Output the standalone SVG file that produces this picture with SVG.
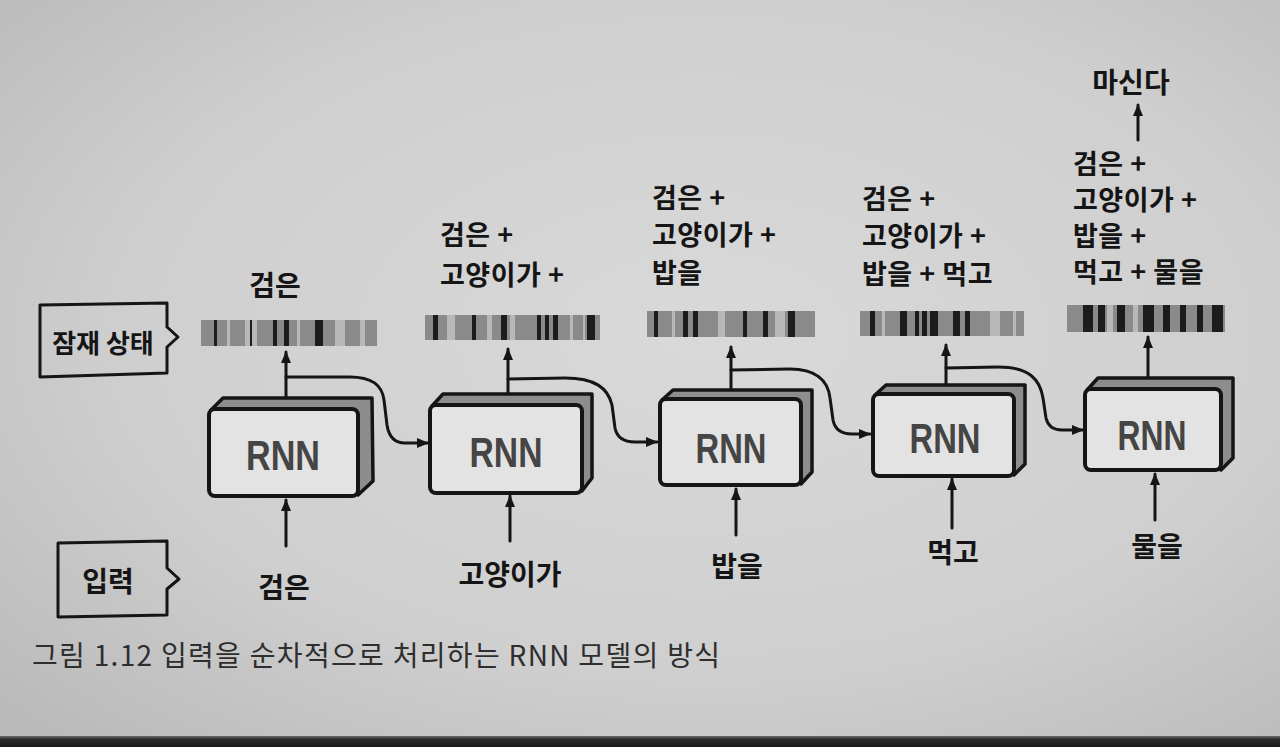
<svg xmlns="http://www.w3.org/2000/svg" width="1280" height="747" viewBox="0 0 1280 747">
<defs>
<radialGradient id="paper" cx="0.55" cy="0.45" r="0.75">
<stop offset="0" stop-color="#d9d9d9"/>
<stop offset="0.6" stop-color="#cfcfcf"/>
<stop offset="1" stop-color="#b9b9b9"/>
</radialGradient>
<linearGradient id="edge" x1="0" y1="0" x2="0" y2="1">
<stop offset="0" stop-color="#6a6a6a"/>
<stop offset="0.3" stop-color="#2a2a2a"/>
<stop offset="1" stop-color="#1a1a1a"/>
</linearGradient>
<marker id="ah" viewBox="0 0 12 12" refX="11" refY="6" markerWidth="12" markerHeight="12" markerUnits="userSpaceOnUse" orient="auto">
<path d="M0,1 L12,6 L0,11 Z" fill="#151515"/>
</marker>
</defs>
<style>
.ln{fill:none;stroke:#151515;stroke-width:3;stroke-linecap:round;stroke-linejoin:round}
.arr{marker-end:url(#ah)}
.lbl{fill:none;stroke:#151515;stroke-width:3;stroke-linejoin:round}
.kr{font-family:"Noto Sans CJK KR","Noto Sans",sans-serif;font-weight:700;fill:#151515;font-size:28px}
.st{font-family:"Noto Sans CJK KR","Noto Sans",sans-serif;font-weight:700;fill:#151515;font-size:27px;letter-spacing:0.5px}
.tag{font-family:"Noto Sans CJK KR","Noto Sans",sans-serif;font-weight:700;fill:#151515;font-size:26px}
.rnn{font-family:"Liberation Sans",Arial,sans-serif;font-weight:700;fill:#454545;font-size:42px}
.back{fill:#8d8d8d;stroke:#151515;stroke-width:3.5;stroke-linejoin:round}
.front{fill:#e3e3e3;stroke:#151515;stroke-width:4}
.bl{fill:#b8b8b8}
.bm{fill:#8a8a8a}
.bd{fill:#1c1c1c}
.cap{font-family:"Noto Sans CJK KR","Noto Sans",sans-serif;font-weight:400;fill:#2e2e2e;font-size:28px}
</style>
<rect x="0" y="0" width="1280" height="747" fill="url(#paper)"/>
<rect x="0" y="736" width="1280" height="11" fill="url(#edge)"/>

<g id="label-latent">
<path class="lbl" d="M40,305 L167,303 L167,327 L178,337 L167,347 L167,373 L40,377 Z"/>
<text class="tag" x="103" y="353" text-anchor="middle">잠재 상태</text>
</g>
<g id="label-input">
<path class="lbl" d="M58,543 L167,541 L167,568 L179,579 L167,589 L167,615 L58,617 Z"/>
<text class="kr" x="108" y="592" text-anchor="middle" font-size="30">입력</text>
</g>

<g id="bar1">
<rect class="bl" x="201" y="320" width="176" height="26"/>
<rect class="bm" x="201" y="320" width="26" height="26"/>
<rect class="bm" x="230" y="320" width="15" height="26"/>
<rect class="bd" x="250" y="320" width="2" height="26"/>
<rect class="bm" x="257" y="320" width="40" height="26"/>
<rect class="bm" x="300" y="320" width="35" height="26"/>
<rect class="bm" x="345" y="320" width="15" height="26"/>
<rect class="bm" x="365" y="320" width="12" height="26"/>
<rect class="bd" x="214" y="320" width="3" height="26"/>
<rect class="bd" x="273" y="320" width="4" height="26"/>
<rect class="bd" x="284" y="320" width="5" height="26"/>
<rect class="bd" x="315" y="320" width="8" height="26"/>
</g>
<g id="bar2">
<rect class="bl" x="425" y="315" width="175" height="25"/>
<rect class="bm" x="425" y="315" width="22" height="25"/>
<rect class="bm" x="455" y="315" width="32" height="25"/>
<rect class="bm" x="492" y="315" width="18" height="25"/>
<rect class="bm" x="515" y="315" width="55" height="25"/>
<rect class="bm" x="573" y="315" width="10" height="25"/>
<rect class="bm" x="585" y="315" width="15" height="25"/>
<rect class="bd" x="433" y="315" width="5" height="25"/>
<rect class="bd" x="472" y="315" width="4" height="25"/>
<rect class="bd" x="501" y="315" width="6" height="25"/>
<rect class="bd" x="537" y="315" width="4" height="25"/>
<rect class="bd" x="545" y="315" width="4" height="25"/>
<rect class="bd" x="553" y="315" width="5" height="25"/>
<rect class="bd" x="587" y="315" width="8" height="25"/>
</g>
<g id="bar3">
<rect class="bl" x="647" y="311" width="168" height="26"/>
<rect class="bm" x="647" y="311" width="25" height="26"/>
<rect class="bm" x="675" y="311" width="43" height="26"/>
<rect class="bm" x="725" y="311" width="50" height="26"/>
<rect class="bm" x="785" y="311" width="30" height="26"/>
<rect class="bd" x="654" y="311" width="4" height="26"/>
<rect class="bd" x="683" y="311" width="5" height="26"/>
<rect class="bd" x="693" y="311" width="5" height="26"/>
<rect class="bd" x="743" y="311" width="4" height="26"/>
<rect class="bd" x="763" y="311" width="5" height="26"/>
<rect class="bd" x="788" y="311" width="7" height="26"/>
</g>
<g id="bar4">
<rect class="bl" x="860" y="311" width="164" height="25"/>
<rect class="bm" x="860" y="311" width="22" height="25"/>
<rect class="bm" x="885" y="311" width="105" height="25"/>
<rect class="bm" x="1000" y="311" width="13" height="25"/>
<rect class="bm" x="1016" y="311" width="8" height="25"/>
<rect class="bd" x="870" y="311" width="5" height="25"/>
<rect class="bd" x="900" y="311" width="7" height="25"/>
<rect class="bd" x="915" y="311" width="4" height="25"/>
<rect class="bd" x="922" y="311" width="5" height="25"/>
<rect class="bd" x="930" y="311" width="8" height="25"/>
<rect class="bd" x="953" y="311" width="7" height="25"/>
<rect class="bd" x="965" y="311" width="5" height="25"/>
</g>
<g id="bar5">
<rect class="bm" x="1067" y="305" width="158" height="27"/>
<rect class="bl" x="1107" y="305" width="6" height="27"/>
<rect class="bl" x="1133" y="305" width="5" height="27"/>
<rect class="bd" x="1083" y="305" width="10" height="27"/>
<rect class="bd" x="1098" y="305" width="7" height="27"/>
<rect class="bd" x="1117" y="305" width="8" height="27"/>
<rect class="bd" x="1143" y="305" width="11" height="27"/>
<rect class="bd" x="1163" y="305" width="7" height="27"/>
<rect class="bd" x="1180" y="305" width="6" height="27"/>
<rect class="bd" x="1197" y="305" width="6" height="27"/>
<rect class="bd" x="1212" y="305" width="11" height="27"/>
</g>

<g id="rnn1">
<path class="back" d="M211,410 L223,398 L372,398 L373,481 L358,495 Z"/>
<rect class="front" x="209" y="409" width="149" height="87" rx="6"/>
<text class="rnn" x="283" y="470" text-anchor="middle" textLength="74" lengthAdjust="spacingAndGlyphs">RNN</text>
</g>
<g id="rnn2">
<path class="back" d="M432,406 L443,394 L592,394 L592,478 L582,491 Z"/>
<rect class="front" x="430" y="405" width="152" height="88" rx="6"/>
<text class="rnn" x="506" y="467" text-anchor="middle" textLength="73" lengthAdjust="spacingAndGlyphs">RNN</text>
</g>
<g id="rnn3">
<path class="back" d="M662,400 L673,390 L812,390 L812,472 L801,484 Z"/>
<rect class="front" x="660" y="399" width="141" height="86" rx="6"/>
<text class="rnn" x="731" y="463" text-anchor="middle" textLength="71" lengthAdjust="spacingAndGlyphs">RNN</text>
</g>
<g id="rnn4">
<path class="back" d="M875,395 L886,385 L1025,385 L1025,464 L1014,475 Z"/>
<rect class="front" x="873" y="394" width="141" height="82" rx="6"/>
<text class="rnn" x="945" y="453" text-anchor="middle" textLength="71" lengthAdjust="spacingAndGlyphs">RNN</text>
</g>
<g id="rnn5">
<path class="back" d="M1087,390 L1098,378 L1233,378 L1233,458 L1221,470 Z"/>
<rect class="front" x="1085" y="389" width="136" height="81" rx="6"/>
<text class="rnn" x="1152" y="450" text-anchor="middle" textLength="69" lengthAdjust="spacingAndGlyphs">RNN</text>
</g>

<g id="connectors">
<path class="ln arr" d="M286,397 L286,352"/>
<path class="ln arr" d="M508,393 L508,349"/>
<path class="ln arr" d="M731,389 L731,347"/>
<path class="ln arr" d="M946,384 L946,345"/>
<path class="ln arr" d="M1148,377 L1148,337"/>
<path class="ln arr" d="M286,546 L286,500"/>
<path class="ln arr" d="M510,541 L510,496"/>
<path class="ln arr" d="M736,535 L736,489"/>
<path class="ln arr" d="M952,528 L952,479"/>
<path class="ln arr" d="M1155,520 L1155,474"/>
<path class="ln arr" d="M1138,140 L1138,105"/>
<path class="ln arr" d="M286,377 L350,377 C372,377 382,385 384,400 L387,425 C389,438 395,443 405,443 L428,443"/>
<path class="ln arr" d="M508,379 L565,378 C595,378 608,388 612,405 L615,428 C617,438 624,442 635,442 L657,442"/>
<path class="ln arr" d="M731,370 L790,369 C815,369 828,380 830,398 L833,420 C835,430 842,434 852,434 L870,434"/>
<path class="ln arr" d="M946,368 L998,367 C1030,367 1040,380 1043,398 L1046,418 C1048,427 1054,430 1062,430 L1083,430"/>
</g>

<g id="state-labels">
<text class="kr" x="275" y="296" text-anchor="middle">검은</text>
<text class="st"><tspan x="440" y="245">검은 +</tspan><tspan x="440" y="285">고양이가 +</tspan></text>
<text class="st"><tspan x="652" y="208">검은 +</tspan><tspan x="652" y="245">고양이가 +</tspan><tspan x="652" y="283">밥을</tspan></text>
<text class="st"><tspan x="862" y="209">검은 +</tspan><tspan x="862" y="246">고양이가 +</tspan><tspan x="862" y="284">밥을 + 먹고</tspan></text>
<text class="st"><tspan x="1073" y="174">검은 +</tspan><tspan x="1073" y="210">고양이가 +</tspan><tspan x="1073" y="246">밥을 +</tspan><tspan x="1073" y="282">먹고 + 물을</tspan></text>
<text class="kr" x="1131" y="93" text-anchor="middle" font-size="22">마신다</text>
</g>
<g id="input-labels">
<text class="kr" x="284" y="598" text-anchor="middle">검은</text>
<text class="kr" x="510" y="585" text-anchor="middle">고양이가</text>
<text class="kr" x="737" y="577" text-anchor="middle">밥을</text>
<text class="kr" x="953" y="563" text-anchor="middle" font-size="25">먹고</text>
<text class="kr" x="1157" y="557" text-anchor="middle" font-size="27">물을</text>
</g>

<text class="cap" x="32" y="666" textLength="688" lengthAdjust="spacing">그림 1.12  입력을 순차적으로 처리하는 RNN 모델의 방식</text>
</svg>
